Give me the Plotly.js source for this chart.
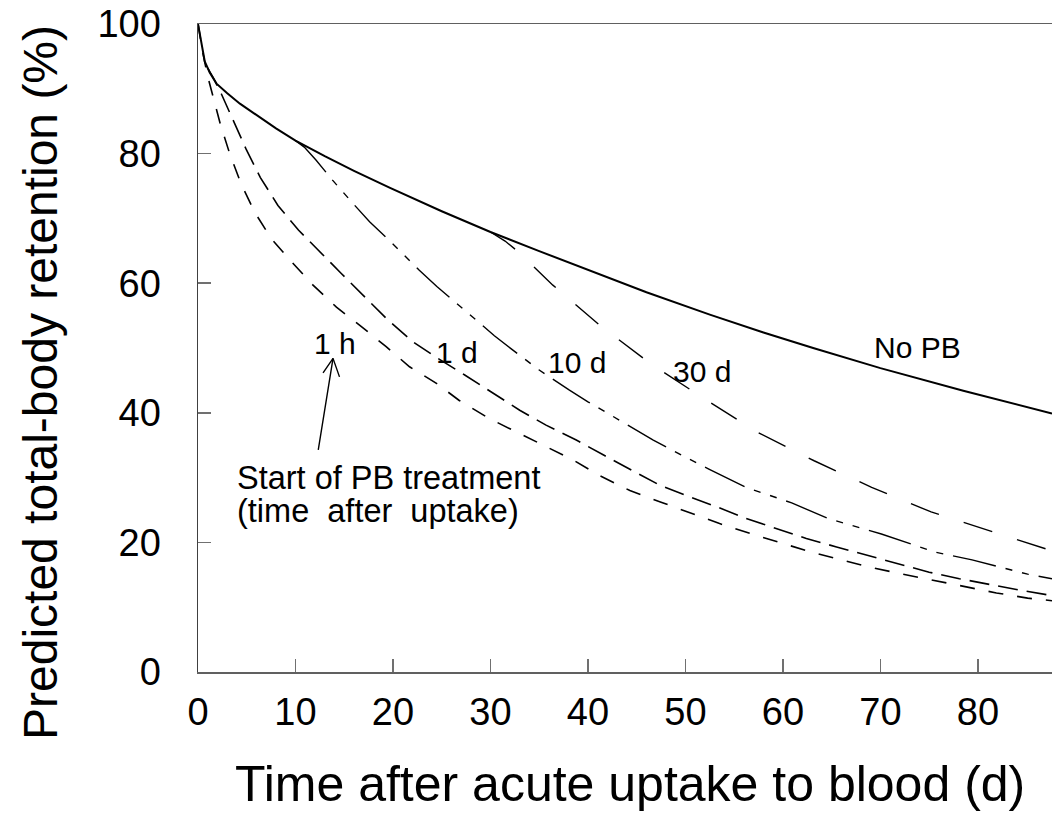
<!DOCTYPE html>
<html><head><meta charset="utf-8">
<script src="https://cdn.plot.ly/plotly-3.0.1.min.js"></script>
<style>html,body{margin:0;padding:0;background:#fff}</style>
</head><body><div id="chart" style="width:1052px;height:816px"></div>
<script>
// Time after uptake (d) and predicted retention (%)
const noPbX = [0, 0.35, 0.7, 1.0, 1.2, 1.9, 3, 4.3, 6, 8, 10, 13, 16, 19.7, 25, 30, 35, 40.9, 46, 52.5, 58, 63.1, 70, 78.5, 87.6];
const noPbY = [100, 97.0, 94.2, 93.2, 92.5, 90.8, 89.3, 87.7, 85.9, 83.9, 82.0, 79.6, 77.35, 74.7, 71.1, 67.9, 64.95, 61.5, 58.6, 55.15, 52.4, 50.0, 46.9, 43.4, 39.9];

const pb1hX = [0, 0.04, 0.5, 1.0, 1.44, 2.3, 3.25, 4.4, 5.8, 7.5, 9.6, 11.8, 14.2, 16.6, 19.3, 21.7, 24.5, 26.8, 29.9, 33.0, 35.7, 38.5, 41.2, 44.3, 47.5, 50.5, 53.5, 56.6, 59.7, 62.9, 66.0, 69.1, 72.3, 75.6, 78.6, 81.9, 85.1, 87.6];
const pb1hY = [100, 99.7, 95.5, 91.9, 89.4, 84.5, 80.0, 75.4, 71.0, 66.9, 63.3, 59.7, 56.3, 53.5, 50.2, 47.1, 44.5, 41.9, 39.1, 36.8, 34.7, 32.7, 30.3, 28.0, 26.2, 24.5, 22.9, 21.4, 20.0, 18.5, 17.3, 16.1, 15.1, 14.1, 13.1, 12.2, 11.4, 11.0];

const pb1dX = [1.0, 1.6, 2.4, 3.66, 4.96, 6.4, 8.2, 10.3, 12.5, 14.7, 17.1, 19.5, 22.1, 24.5, 27.4, 30.3, 33.0, 35.7, 38.8, 41.7, 44.6, 47.4, 50.3, 53.2, 56.2, 59.3, 62.4, 65.5, 68.7, 71.8, 75.0, 78.1, 81.4, 84.4, 87.6];
const pb1dY = [93.2, 91.6, 89.2, 85.0, 80.6, 76.3, 72.0, 68.2, 64.8, 61.5, 57.9, 54.3, 50.9, 48.5, 45.8, 43.0, 40.4, 38.1, 35.8, 33.4, 31.1, 28.8, 27.1, 25.5, 23.7, 22.1, 20.6, 19.3, 18.0, 16.7, 15.4, 14.4, 13.4, 12.6, 11.8];

const pb10dX = [10, 10.9, 12.1, 13.8, 15.9, 17.6, 20.3, 22.7, 24.5, 27.5, 30.4, 32.1, 35.0, 38.1, 40.0, 43.3, 46.7, 49.7, 52.4, 56.2, 60.9, 64.6, 70.1, 75.6, 79.4, 85.1, 87.6];
const pb10dY = [82.0, 81.0, 79.0, 75.9, 72.3, 69.5, 65.6, 62.0, 59.5, 55.6, 51.9, 49.9, 46.6, 43.5, 41.7, 38.8, 35.8, 33.4, 31.3, 28.5, 26.1, 23.7, 21.3, 18.5, 17.3, 15.1, 14.4];

const pb30dX = [30, 31.5, 32.9, 36.4, 41.3, 46.5, 51.7, 57.4, 63.2, 69.1, 75.2, 81.3, 86.8, 87.6];
const pb30dY = [67.9, 66.5, 64.8, 59.7, 53.4, 47.5, 42.4, 37.0, 32.6, 28.5, 24.7, 21.7, 19.0, 18.7];

const xTicks = [0, 10, 20, 30, 40, 50, 60, 70, 80];
const yTicks = [0, 20, 40, 60, 80, 100];

const curveLabels = ["1 h", "1 d", "10 d", "30 d", "No PB"];
const curveLabelX = [14.05, 26.6, 38.9, 51.7, 73.8];
const curveLabelY = [50.7, 49.3, 47.8, 46.4, 50.1];

const FONT = "Arial, 'Liberation Sans', sans-serif";

function tr(x, y, dash, w, name) {
  return {x: x, y: y, type: 'scatter', mode: 'lines', name: name,
          line: {color: '#000', width: w, dash: dash}, hoverinfo: 'skip'};
}

const data = [
  tr(pb1hX, pb1hY, '15px,14px', 1.6, '1 h'),
  tr(pb1dX, pb1dY, '20px,9px', 1.6, '1 d'),
  tr(pb10dX, pb10dY, '44px,10px,7px,10px,7px,10px', 1.4, '10 d'),
  tr(pb30dX, pb30dY, '30px,26px', 1.4, '30 d'),
  tr(noPbX, noPbY, 'solid', 2, 'No PB')
];

const annotations = curveLabels.map((t, i) => ({
  x: curveLabelX[i], y: curveLabelY[i], xref: 'x', yref: 'y', text: t,
  showarrow: false, font: {family: FONT, size: 30, color: '#000'}
}));

annotations.push({
  x: 3.77, y: 30.0, xref: 'x', yref: 'y', xanchor: 'left', yanchor: 'middle',
  text: 'Start of PB treatment', showarrow: false,
  font: {family: FONT, size: 32.5, color: '#000'}
});
annotations.push({
  x: 3.77, y: 24.8, xref: 'x', yref: 'y', xanchor: 'left', yanchor: 'middle',
  text: '(time&nbsp; after&nbsp; uptake)', showarrow: false,
  font: {family: FONT, size: 32.5, color: '#000'}
});
// arrow: shaft and open V head (pixel offsets from the tip)
const arrowParts = [[-15, 93], [-11, 16], [7, 20]];
arrowParts.forEach(p => annotations.push({
  x: 13.85, y: 48.4, xref: 'x', yref: 'y', text: '', showarrow: true,
  ax: p[0], ay: p[1], arrowhead: 0, arrowwidth: 1.4, arrowcolor: '#000', standoff: 0
}));
annotations.push({
  x: (40 - 198) / (1052 - 198), y: (672 - 383) / (672 - 24), xref: 'paper', yref: 'paper',
  text: 'Predicted total-body retention (%)',
  textangle: -90, showarrow: false, xanchor: 'center', yanchor: 'middle',
  font: {family: FONT, size: 48, color: '#000'}
});
annotations.push({
  x: (630 - 198) / (1052 - 198), y: -(784 - 672) / (672 - 24), xref: 'paper', yref: 'paper',
  text: 'Time after acute uptake to blood (d)',
  showarrow: false, xanchor: 'center', yanchor: 'middle',
  font: {family: FONT, size: 50, color: '#000'}
});

const layout = {
  width: 1052, height: 816,
  margin: {l: 198, r: 0, t: 24, b: 144},
  paper_bgcolor: '#fff', plot_bgcolor: '#fff',
  showlegend: false,
  font: {family: FONT, color: '#000'},
  xaxis: {
    range: [0, 87.6], tickvals: xTicks, ticktext: xTicks.map(String),
    showgrid: false, zeroline: false,
    showline: true, linecolor: '#606060', linewidth: 1.5, mirror: true,
    ticks: 'inside', ticklen: 13, tickwidth: 1.5, tickcolor: '#707070',
    tickfont: {family: FONT, size: 38, color: '#000'},
    ticklabelstandoff: 6
  },
  yaxis: {
    range: [0, 100], tickvals: yTicks, ticktext: yTicks.map(String),
    showgrid: false, zeroline: false,
    showline: true, linecolor: '#404040', linewidth: 1.5, mirror: false,
    ticks: 'inside', ticklen: 13, tickwidth: 1.5, tickcolor: '#707070',
    tickfont: {family: FONT, size: 38, color: '#000'},
    ticklabelstandoff: 28
  },
  annotations: annotations
};

Plotly.newPlot('chart', data, layout, {staticPlot: true, displayModeBar: false});
</script></body></html>
